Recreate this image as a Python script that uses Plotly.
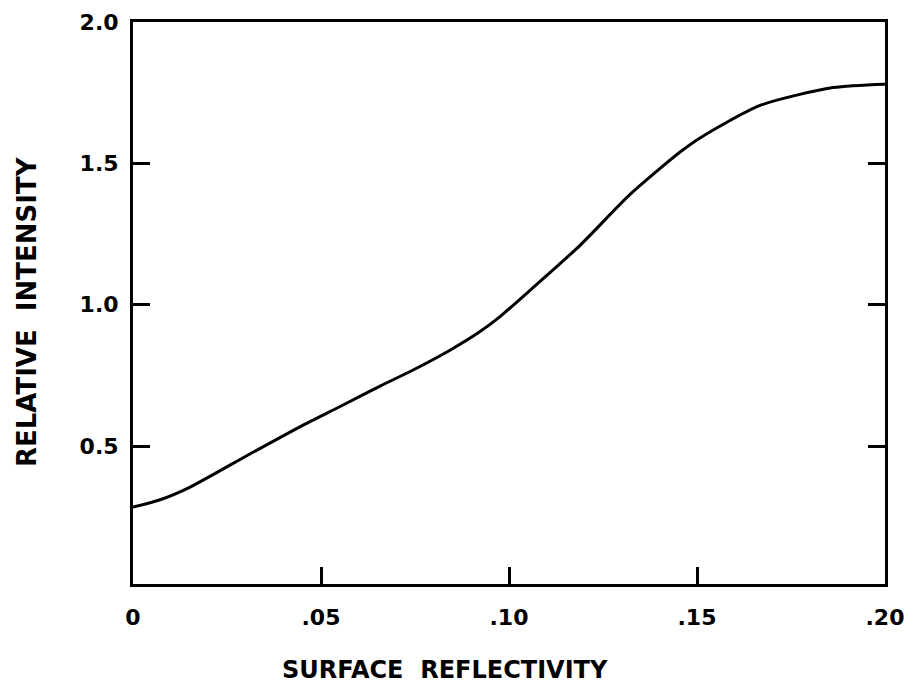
import plotly.graph_objects as go

reflectivity = [0.0, 0.0072, 0.0152, 0.0311, 0.0444, 0.0551, 0.0657, 0.0745, 0.0843,
                0.0923, 0.0976, 0.1056, 0.1189, 0.1322, 0.1455, 0.1508, 0.1668, 0.1862, 0.20]
intensity = [0.284, 0.31, 0.355, 0.472, 0.568, 0.64, 0.712, 0.769, 0.839,
             0.905, 0.958, 1.051, 1.21, 1.39, 1.54, 1.59, 1.705, 1.768, 1.78]

x_tickvals = [0, 0.05, 0.10, 0.15, 0.20]
x_ticktext = ["0", ".05", ".10", ".15", ".20"]
y_tickvals = [0.5, 1.0, 1.5, 2.0]
y_ticktext = ["0.5", "1.0", "1.5", "2.0"]

FONT = "DejaVu Sans"

fig = go.Figure()
fig.add_trace(go.Scatter(x=reflectivity, y=intensity, mode="lines",
                         line=dict(color="black", width=3, shape="spline", smoothing=0.7),
                         showlegend=False, hoverinfo="skip"))

fig.update_layout(
    width=915, height=686,
    margin=dict(l=133, r=30, t=22, b=102, autoexpand=False),
    paper_bgcolor="white", plot_bgcolor="white",
    font=dict(family=FONT, color="black"),
    annotations=[
        dict(text="<b>SURFACE  REFLECTIVITY</b>", xref="paper", yref="paper",
             x=(445 - 133) / 752, y=-(670 - 584) / 562, xanchor="center", yanchor="middle",
             showarrow=False, font=dict(family=FONT, size=24, color="black")),
        dict(text="<b>RELATIVE  INTENSITY</b>", xref="paper", yref="paper",
             x=-(133 - 27) / 752, y=(584 - 312) / 562, xanchor="center", yanchor="middle",
             textangle=-90, showarrow=False, font=dict(family=FONT, size=26, color="black")),
    ],
)
fig.update_xaxes(range=[0, 0.20], tickvals=x_tickvals, ticktext=x_ticktext,
                 ticks="inside", ticklen=17, tickwidth=2.5, tickcolor="black",
                 showline=True, linecolor="black", linewidth=3, mirror=True,
                 showgrid=False, zeroline=False, automargin=False,
                 tickfont=dict(family=FONT, size=22, color="black", weight="bold"),
                 ticklabelstandoff=12)
fig.update_yaxes(range=[0.012, 2.0], tickvals=y_tickvals, ticktext=y_ticktext,
                 ticks="inside", ticklen=17, tickwidth=2.5, tickcolor="black",
                 showline=True, linecolor="black", linewidth=3, mirror="ticks",
                 showgrid=False, zeroline=False, automargin=False,
                 tickfont=dict(family=FONT, size=22, color="black", weight="bold"),
                 ticklabelstandoff=7)

fig.write_html("out.html", config={"displayModeBar": False},
               post_script="document.body.style.margin='0';document.body.style.padding='0';")
